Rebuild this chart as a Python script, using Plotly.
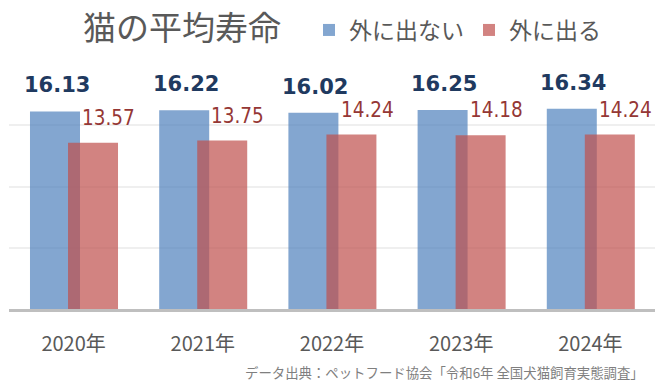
import plotly.graph_objects as go

# ---- data ----
years = ["2020年", "2021年", "2022年", "2023年", "2024年"]
indoor = [16.13, 16.22, 16.02, 16.25, 16.34]     # 外に出ない
outdoor = [13.57, 13.75, 14.24, 14.18, 14.24]    # 外に出る
series_names = ["外に出ない", "外に出る"]
title_text = "猫の平均寿命"
source_text = "データ出典：ペットフード協会「令和6年 全国犬猫飼育実態調査」"

BLUE = "#4F81BD"
RED = "#C0504D"
JP = "Noto Sans CJK JP"

W, H = 670, 391
ML, MR, MT, MB = 9, 15, 64, 82
PW, PH = W - ML - MR, H - MT - MB

fig = go.Figure()
fig.add_trace(go.Bar(
    x=years, y=indoor, name=series_names[0],
    marker=dict(color=BLUE, line=dict(width=0)), opacity=0.7,
    width=0.387, offset=-0.3375, hoverinfo="x+y",
))
fig.add_trace(go.Bar(
    x=years, y=outdoor, name=series_names[1],
    marker=dict(color=RED, line=dict(width=0)), opacity=0.7,
    width=0.387, offset=-0.0433, hoverinfo="x+y",
))

annotations = []
for yr, v in zip(years, indoor):
    annotations.append(dict(
        x=yr, y=v, xref="x", yref="y", text=f"{v:.2f}", showarrow=False,
        xanchor="center", yanchor="middle", xshift=-17, yshift=26,
        font=dict(family="DejaVu Sans", size=21, color="#1F3A60", weight="bold"),
    ))
for yr, v in zip(years, outdoor):
    annotations.append(dict(
        x=yr, y=v, xref="x", yref="y", text=f"{v:.2f}", showarrow=False,
        xanchor="center", yanchor="middle", xshift=35, yshift=25,
        font=dict(family="DejaVu Sans Condensed, Liberation Sans", size=20.5, color="#953735"),
    ))
annotations.append(dict(
    x=(646 - ML) / PW, y=((H - MB) - 372) / PH,
    xref="paper", yref="paper", text=source_text, showarrow=False,
    xanchor="right", yanchor="middle",
    font=dict(family=JP, size=13.4, color="#7F7F7F"),
))

fig.update_layout(
    width=W, height=H,
    margin=dict(l=ML, r=MR, t=MT, b=MB, pad=0, autoexpand=False),
    paper_bgcolor="white", plot_bgcolor="white",
    barmode="overlay",
    title=dict(
        text=title_text, x=83 / W, xanchor="left", xref="container",
        y=1 - 28.5 / H, yanchor="middle", yref="container",
        font=dict(family=JP, size=33, color="#595959"),
    ),
    legend=dict(
        orientation="h", x=(309 - ML) / PW, xanchor="left",
        y=1 + (MT - 30) / PH, yanchor="middle",
        font=dict(family=JP, size=23, color="#595959"),
        bgcolor="rgba(0,0,0,0)", itemclick=False, itemdoubleclick=False,
    ),
    xaxis=dict(
        showline=True, linecolor="#BFBFBF", linewidth=2.5,
        ticks="", ticklabelstandoff=15,
        tickfont=dict(family=JP, size=20, color="#595959"),
        showgrid=False, zeroline=False, fixedrange=True,
    ),
    yaxis=dict(
        range=[0, 20], dtick=5, showticklabels=False,
        showgrid=True, gridcolor="#EFEFEF", gridwidth=2,
        zeroline=False, showline=False, fixedrange=True,
    ),
    annotations=annotations,
    showlegend=True,
)

fig.write_html(
    "out.html",
    config={"displayModeBar": False},
    post_script="document.body.style.margin='0';document.body.style.overflow='hidden';",
)
